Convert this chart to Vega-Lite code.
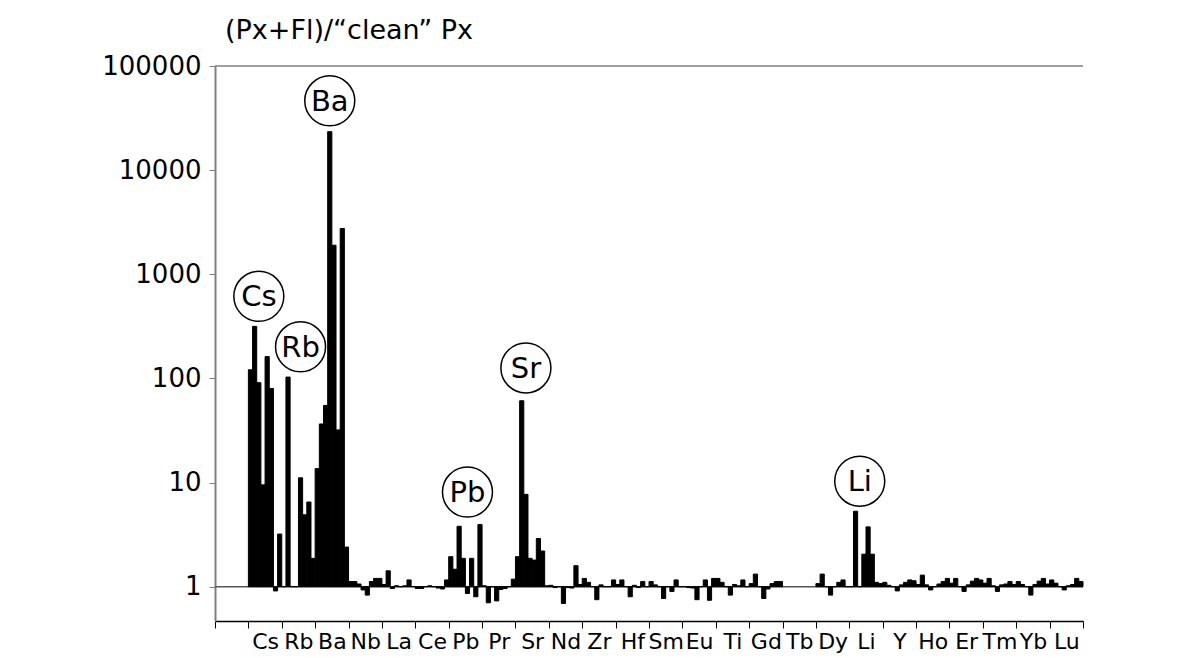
{
  "$schema": "https://vega.github.io/schema/vega-lite/v6.json",
  "width": 868,
  "height": 555,
  "autosize": "none",
  "padding": {"left": 215, "top": 66, "right": 97, "bottom": 37},
  "background": "white",
  "config": {"view": {"stroke": null}, "font": "DejaVu Sans"},
  "title": {"text": "(Px+Fl)/\u201cclean\u201d Px", "anchor": "start", "frame": "group", "fontSize": 27, "fontWeight": "normal", "color": "black", "dx": 10, "offset": 8},
  "datasets": {
    "bars": [
      {"el":"Cs","s":0,"v":121},{"el":"Cs","s":1,"v":316},{"el":"Cs","s":2,"v":91},{"el":"Cs","s":3,"v":9.5},{"el":"Cs","s":4,"v":162},{"el":"Cs","s":5,"v":80},{"el":"Cs","s":6,"v":0.91},{"el":"Cs","s":7,"v":3.2},
      {"el":"Rb","s":0,"v":1},{"el":"Rb","s":1,"v":103},{"el":"Rb","s":2,"v":1},{"el":"Rb","s":3,"v":1},{"el":"Rb","s":4,"v":11.1},{"el":"Rb","s":5,"v":4.9},{"el":"Rb","s":6,"v":6.5},{"el":"Rb","s":7,"v":1.87},
      {"el":"Ba","s":0,"v":13.6},{"el":"Ba","s":1,"v":36.5},{"el":"Ba","s":2,"v":55},{"el":"Ba","s":3,"v":23400},{"el":"Ba","s":4,"v":1900},{"el":"Ba","s":5,"v":32},{"el":"Ba","s":6,"v":2750},{"el":"Ba","s":7,"v":2.4},
      {"el":"Nb","s":0,"v":1.12},{"el":"Nb","s":1,"v":1.12},{"el":"Nb","s":2,"v":1.06},{"el":"Nb","s":3,"v":0.93},{"el":"Nb","s":4,"v":0.83},{"el":"Nb","s":5,"v":1.12},{"el":"Nb","s":6,"v":1.2},{"el":"Nb","s":7,"v":1.2},
      {"el":"La","s":0,"v":1.05},{"el":"La","s":1,"v":1.42},{"el":"La","s":2,"v":0.96},{"el":"La","s":3,"v":1.02},{"el":"La","s":4,"v":1.0},{"el":"La","s":5,"v":1.02},{"el":"La","s":6,"v":1.16},{"el":"La","s":7,"v":1.0},
      {"el":"Ce","s":0,"v":0.96},{"el":"Ce","s":1,"v":0.96},{"el":"Ce","s":2,"v":1.0},{"el":"Ce","s":3,"v":1.02},{"el":"Ce","s":4,"v":1.0},{"el":"Ce","s":5,"v":0.97},{"el":"Ce","s":6,"v":0.95},{"el":"Ce","s":7,"v":1.16},
      {"el":"Pb","s":0,"v":1.94},{"el":"Pb","s":1,"v":1.47},{"el":"Pb","s":2,"v":3.8},{"el":"Pb","s":3,"v":1.87},{"el":"Pb","s":4,"v":0.86},{"el":"Pb","s":5,"v":1.87},{"el":"Pb","s":6,"v":0.8},{"el":"Pb","s":7,"v":3.95},
      {"el":"Pr","s":0,"v":1.02},{"el":"Pr","s":1,"v":0.7},{"el":"Pr","s":2,"v":1.0},{"el":"Pr","s":3,"v":0.73},{"el":"Pr","s":4,"v":0.94},{"el":"Pr","s":5,"v":0.96},{"el":"Pr","s":6,"v":1.0},{"el":"Pr","s":7,"v":1.18},
      {"el":"Sr","s":0,"v":1.94},{"el":"Sr","s":1,"v":61},{"el":"Sr","s":2,"v":7.7},{"el":"Sr","s":3,"v":1.87},{"el":"Sr","s":4,"v":1.8},{"el":"Sr","s":5,"v":2.9},{"el":"Sr","s":6,"v":2.2},{"el":"Sr","s":7,"v":1.02},
      {"el":"Nd","s":0,"v":1.03},{"el":"Nd","s":1,"v":0.98},{"el":"Nd","s":2,"v":1.0},{"el":"Nd","s":3,"v":0.69},{"el":"Nd","s":4,"v":0.98},{"el":"Nd","s":5,"v":0.97},{"el":"Nd","s":6,"v":1.59},{"el":"Nd","s":7,"v":1.05},
      {"el":"Zr","s":0,"v":1.2},{"el":"Zr","s":1,"v":1.1},{"el":"Zr","s":2,"v":1.0},{"el":"Zr","s":3,"v":0.75},{"el":"Zr","s":4,"v":1.04},{"el":"Zr","s":5,"v":1.0},{"el":"Zr","s":6,"v":1.0},{"el":"Zr","s":7,"v":1.16},
      {"el":"Hf","s":0,"v":1.05},{"el":"Hf","s":1,"v":1.16},{"el":"Hf","s":2,"v":1.0},{"el":"Hf","s":3,"v":0.8},{"el":"Hf","s":4,"v":1.03},{"el":"Hf","s":5,"v":0.98},{"el":"Hf","s":6,"v":1.12},{"el":"Hf","s":7,"v":1.0},
      {"el":"Sm","s":0,"v":1.12},{"el":"Sm","s":1,"v":1.04},{"el":"Sm","s":2,"v":1.0},{"el":"Sm","s":3,"v":0.77},{"el":"Sm","s":4,"v":1.0},{"el":"Sm","s":5,"v":0.9},{"el":"Sm","s":6,"v":1.16},{"el":"Sm","s":7,"v":1.0},
      {"el":"Eu","s":0,"v":1.0},{"el":"Eu","s":1,"v":0.98},{"el":"Eu","s":2,"v":0.97},{"el":"Eu","s":3,"v":0.75},{"el":"Eu","s":4,"v":1.0},{"el":"Eu","s":5,"v":1.16},{"el":"Eu","s":6,"v":0.74},{"el":"Eu","s":7,"v":1.2},
      {"el":"Ti","s":0,"v":1.2},{"el":"Ti","s":1,"v":1.1},{"el":"Ti","s":2,"v":1.0},{"el":"Ti","s":3,"v":0.83},{"el":"Ti","s":4,"v":1.05},{"el":"Ti","s":5,"v":1.02},{"el":"Ti","s":6,"v":1.16},{"el":"Ti","s":7,"v":1.0},
      {"el":"Gd","s":0,"v":1.07},{"el":"Gd","s":1,"v":1.32},{"el":"Gd","s":2,"v":1.0},{"el":"Gd","s":3,"v":0.77},{"el":"Gd","s":4,"v":0.95},{"el":"Gd","s":5,"v":1.07},{"el":"Gd","s":6,"v":1.12},{"el":"Gd","s":7,"v":1.12},
      {"el":"Dy","s":0,"v":1.07},{"el":"Dy","s":1,"v":1.32},{"el":"Dy","s":2,"v":1.0},{"el":"Dy","s":3,"v":0.83},{"el":"Dy","s":4,"v":1.0},{"el":"Dy","s":5,"v":1.1},{"el":"Dy","s":6,"v":1.16},{"el":"Dy","s":7,"v":1.0},
      {"el":"Li","s":0,"v":1.0},{"el":"Li","s":1,"v":5.3},{"el":"Li","s":2,"v":1.0},{"el":"Li","s":3,"v":2.05},{"el":"Li","s":4,"v":3.75},{"el":"Li","s":5,"v":2.05},{"el":"Li","s":6,"v":1.1},{"el":"Li","s":7,"v":1.07},
      {"el":"Y","s":0,"v":1.1},{"el":"Y","s":1,"v":1.03},{"el":"Y","s":2,"v":1.0},{"el":"Y","s":3,"v":0.91},{"el":"Y","s":4,"v":1.04},{"el":"Y","s":5,"v":1.1},{"el":"Y","s":6,"v":1.16},{"el":"Y","s":7,"v":1.14},
      {"el":"Ho","s":0,"v":1.05},{"el":"Ho","s":1,"v":1.29},{"el":"Ho","s":2,"v":1.04},{"el":"Ho","s":3,"v":0.93},{"el":"Ho","s":4,"v":1.0},{"el":"Ho","s":5,"v":1.06},{"el":"Ho","s":6,"v":1.12},{"el":"Ho","s":7,"v":1.2},
      {"el":"Er","s":0,"v":1.08},{"el":"Er","s":1,"v":1.2},{"el":"Er","s":2,"v":1.0},{"el":"Er","s":3,"v":0.9},{"el":"Er","s":4,"v":1.04},{"el":"Er","s":5,"v":1.13},{"el":"Er","s":6,"v":1.2},{"el":"Er","s":7,"v":1.16},
      {"el":"Tm","s":0,"v":1.08},{"el":"Tm","s":1,"v":1.2},{"el":"Tm","s":2,"v":1.02},{"el":"Tm","s":3,"v":0.9},{"el":"Tm","s":4,"v":1.04},{"el":"Tm","s":5,"v":1.06},{"el":"Tm","s":6,"v":1.12},{"el":"Tm","s":7,"v":1.05},
      {"el":"Yb","s":0,"v":1.12},{"el":"Yb","s":1,"v":1.05},{"el":"Yb","s":2,"v":1.0},{"el":"Yb","s":3,"v":0.83},{"el":"Yb","s":4,"v":1.05},{"el":"Yb","s":5,"v":1.13},{"el":"Yb","s":6,"v":1.2},{"el":"Yb","s":7,"v":1.06},
      {"el":"Lu","s":0,"v":1.16},{"el":"Lu","s":1,"v":1.08},{"el":"Lu","s":2,"v":1.0},{"el":"Lu","s":3,"v":0.93},{"el":"Lu","s":4,"v":1.02},{"el":"Lu","s":5,"v":1.05},{"el":"Lu","s":6,"v":1.2},{"el":"Lu","s":7,"v":1.12}
    ],
    "notes": [
      {"el":"Cs","s":2,"y":614,"t":"Cs"},
      {"el":"Rb","s":4,"y":201,"t":"Rb"},
      {"el":"Ba","s":3,"y":46300,"t":"Ba"},
      {"el":"Pb","s":4,"y":8.1,"t":"Pb"},
      {"el":"Sr","s":2,"y":126,"t":"Sr"},
      {"el":"Li","s":2,"y":10.3,"t":"Li"}
    ],
    "lines": [
      {"y": 100000, "c": "top"},
      {"y": 1, "c": "base"}
    ]
  },
  "encoding": {
    "x": {
      "field": "el", "type": "nominal",
      "scale": {"domain": [" ","Cs","Rb","Ba","Nb","La","Ce","Pb","Pr","Sr","Nd","Zr","Hf","Sm","Eu","Ti","Gd","Tb","Dy","Li","Y","Ho","Er","Tm","Yb","Lu"], "paddingInner": 0, "paddingOuter": 0},
      "axis": {"title": null, "tickBand": "extent", "labelAngle": 0, "labelFontSize": 22, "labelColor": "black", "labelPadding": 3, "tickSize": 7, "tickColor": "black", "domainColor": "black", "domainWidth": 1.5, "grid": false}
    },
    "xOffset": {"field": "s", "type": "ordinal", "scale": {"domain": [0,1,2,3,4,5,6,7], "paddingInner": 0, "paddingOuter": 0}}
  },
  "layer": [
    {
      "data": {"name": "lines"},
      "mark": {"type": "rule", "strokeWidth": 1.5},
      "encoding": {
        "y": {"field": "y", "type": "quantitative", "scale": {"type": "log", "domain": [0.468, 100000], "nice": false}},
        "color": {"field": "c", "type": "nominal", "scale": {"domain": ["top", "base"], "range": ["#808080", "#555555"]}, "legend": null},
        "x": null, "xOffset": null
      }
    },
    {
      "data": {"name": "bars"},
      "mark": {"type": "bar", "color": "black", "stroke": "black", "strokeWidth": 1},
      "encoding": {
        "y": {"field": "v", "type": "quantitative", "scale": {"type": "log", "domain": [0.468, 100000], "nice": false},
          "axis": {"title": null, "values": [1,10,100,1000,10000,100000], "format": "d", "labelFontSize": 26, "labelColor": "black", "labelPadding": 8, "tickSize": 6, "tickColor": "#808080", "domainColor": "#808080", "domainWidth": 2, "grid": false}},
        "y2": {"datum": 1}
      }
    },
    {
      "data": {"name": "notes"},
      "mark": {"type": "point", "shape": "circle", "filled": false, "size": 2500, "stroke": "black", "strokeWidth": 1.5, "opacity": 1},
      "encoding": {"y": {"field": "y", "type": "quantitative"}}
    },
    {
      "data": {"name": "notes"},
      "mark": {"type": "text", "fontSize": 29, "color": "black", "align": "center", "baseline": "middle", "dy": 1},
      "encoding": {"y": {"field": "y", "type": "quantitative"}, "text": {"field": "t"}}
    }
  ]
}
